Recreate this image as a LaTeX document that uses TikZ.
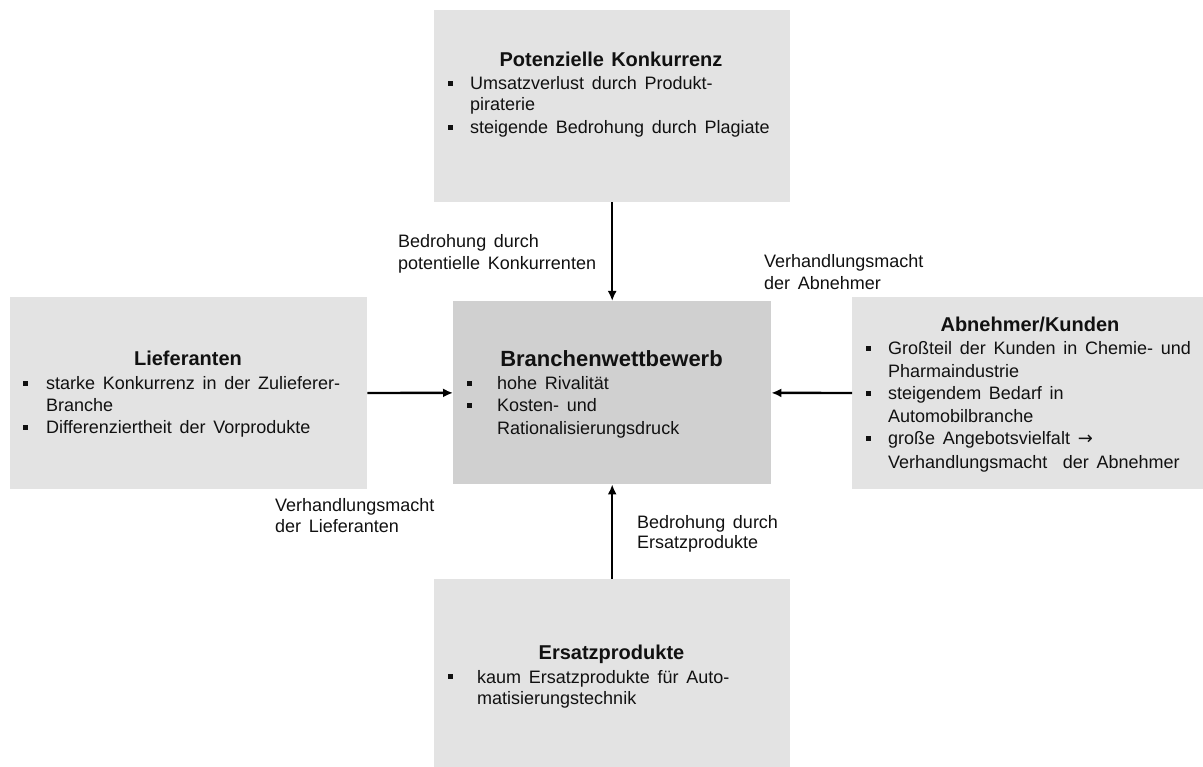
\documentclass[tikz,border=0pt]{standalone}
\usepackage{fontspec}
\setmainfont{Liberation Sans}
\newfontfamily\arrowfont{DejaVu Sans}
\usetikzlibrary{arrows.meta}

\definecolor{boxgray}{HTML}{E3E3E3}
\definecolor{coregray}{HTML}{D0D0D0}
\definecolor{ink}{HTML}{111111}

\tikzset{
  panel/.style={fill=boxgray, draw=none, inner sep=0pt, anchor=north west},
  core/.style={panel, fill=coregray},
  heading/.style={font=\bfseries\fontsize{20}{24}\selectfont, text=ink, anchor=base, inner sep=0pt,
    execute at begin node={\spaceskip=0.36em\relax}},
  bigheading/.style={heading, font=\bfseries\fontsize{22}{26}\selectfont},
  body/.style={font=\fontsize{18}{22}\selectfont, text=ink, anchor=base west, inner sep=0pt,
    execute at begin node={\spaceskip=0.43em\relax}},
  sqbullet/.style={fill=ink, draw=none, minimum size=5pt, inner sep=0pt, anchor=center},
  flow/.style={line width=2.4pt, draw=black, -{Latex[length=10pt,width=9pt]}}
}

% one line of body text and one square bullet
\newcommand\txtline[4]{\node[body] (#1) at (#2,#3) {#4};}
\newcommand\bulletat[3]{\node[sqbullet] (#1) at (#2,#3) {};}

\begin{document}
\begin{tikzpicture}[x=1pt,y=-1pt]
\useasboundingbox (0,0) rectangle (1203,767);

% ---- panels ----
\node[panel, minimum width=356pt, minimum height=192pt] (pk) at (434,10) {};
\node[panel, minimum width=357pt, minimum height=192pt] (lf) at (10,297) {};
\node[core,  minimum width=318pt, minimum height=183pt] (bw) at (453,301) {};
\node[panel, minimum width=351pt, minimum height=192pt] (ab) at (852,297) {};
\node[panel, minimum width=356pt, minimum height=188pt] (es) at (434,579) {};

% ---- Potenzielle Konkurrenz ----
\node[heading] (pkT) at (611,67) {Potenzielle Konkurrenz};
\bulletat{pkB1}{450.5}{83.5}
\txtline{pkL1}{470}{90}{Umsatzverlust durch Produkt-}
\txtline{pkL2}{470}{111}{piraterie}
\bulletat{pkB2}{450.5}{127.5}
\txtline{pkL3}{470}{134}{steigende Bedrohung durch Plagiate}

% ---- Lieferanten ----
\node[heading] (lfT) at (188,366) {Lieferanten};
\bulletat{lfB1}{25}{383.5}
\txtline{lfL1}{46}{390}{starke Konkurrenz in der Zulieferer-}
\txtline{lfL2}{46}{412}{Branche}
\bulletat{lfB2}{25}{427.5}
\txtline{lfL3}{46}{434}{Differenziertheit der Vorprodukte}

% ---- Branchenwettbewerb ----
\node[bigheading] (bwT) at (611.5,367) {Branchenwettbewerb};
\bulletat{bwB1}{469.5}{383.5}
\txtline{bwL1}{497}{390}{hohe Rivalität}
\bulletat{bwB2}{469.5}{405.5}
\txtline{bwL2}{497}{412}{Kosten- und}
\txtline{bwL3}{497}{435}{Rationalisierungsdruck}

% ---- Abnehmer/Kunden ----
\node[heading] (abT) at (1030,332) {Abnehmer/Kunden};
\bulletat{abB1}{868.5}{348.5}
\txtline{abL1}{888}{355}{Großteil der Kunden in Chemie- und}
\txtline{abL2}{888}{378}{Pharmaindustrie}
\bulletat{abB2}{868.5}{393.5}
\txtline{abL3}{888}{400}{steigendem Bedarf in}
\txtline{abL4}{888}{423}{Automobilbranche}
\bulletat{abB3}{868.5}{438.5}
\txtline{abL5}{888}{445}{große Angebotsvielfalt {\arrowfont →}}
\txtline{abL6}{888}{468}{Verhandlungsmacht \ der Abnehmer}

% ---- Ersatzprodukte ----
\node[heading] (esT) at (611.5,659) {Ersatzprodukte};
\bulletat{esB1}{450}{676.5}
\txtline{esL1}{477}{683}{kaum Ersatzprodukte für Auto-}
\txtline{esL2}{477}{704}{matisierungstechnik}

% ---- connectors ----
\draw[flow] (pk) -- (bw);
\draw[flow] (lf) -- (bw);
\draw[flow] (ab) -- (bw);
\draw[flow] (es) -- (bw);

% ---- connector labels ----
\txtline{kLa}{398}{248}{Bedrohung durch}
\txtline{kLb}{398}{270}{potentielle Konkurrenten}
\txtline{aLa}{764}{268}{Verhandlungsmacht}
\txtline{aLb}{764}{290}{der Abnehmer}
\txtline{lLa}{275}{511}{Verhandlungsmacht}
\txtline{lLb}{275}{532}{der Lieferanten}
\txtline{eLa}{637}{528}{Bedrohung durch}
\txtline{eLb}{637}{548}{Ersatzprodukte}
\end{tikzpicture}
\end{document}
